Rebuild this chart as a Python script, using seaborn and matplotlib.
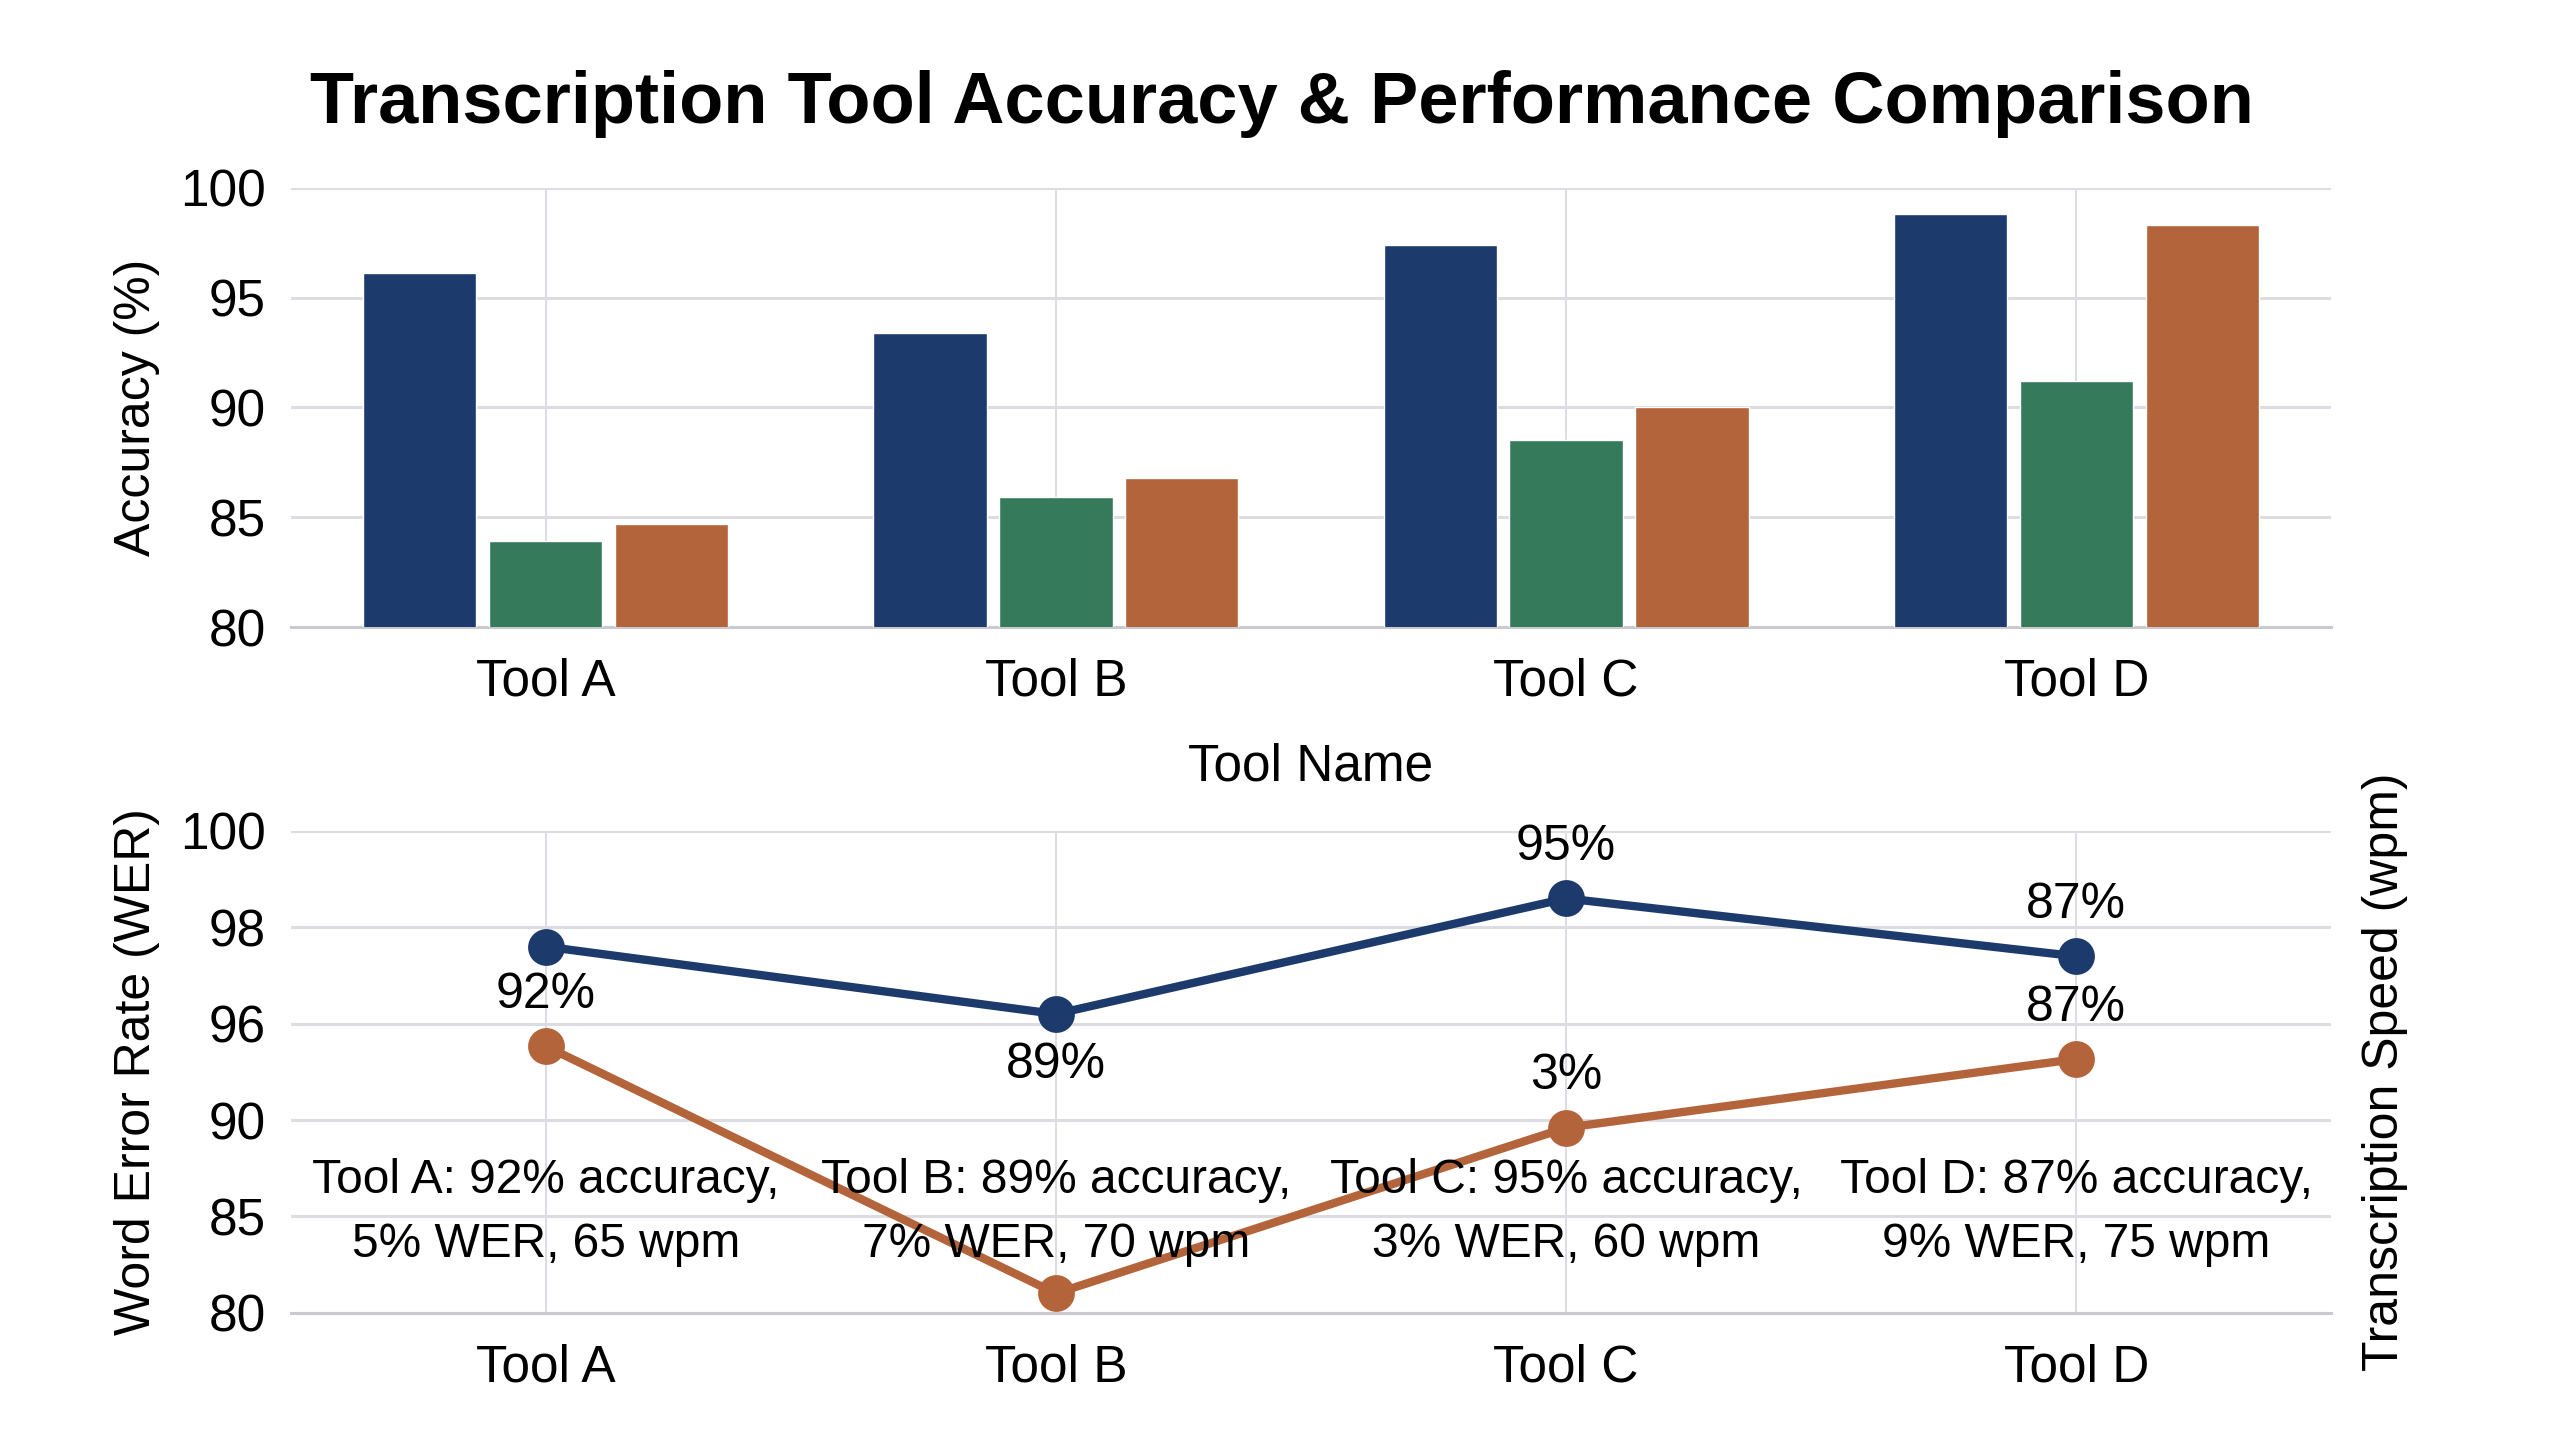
import numpy as np
import pandas as pd
import matplotlib
matplotlib.use("Agg")
import matplotlib.pyplot as plt
import matplotlib.transforms as mtransforms
import seaborn as sns

# Datos
tools = ["Tool A", "Tool B", "Tool C", "Tool D"]
acc_clean = [96.1, 93.4, 97.4, 98.8]
acc_noisy = [83.9, 85.9, 88.5, 91.2]
acc_accent = [84.7, 86.8, 90.0, 98.3]
bar_series = ["Clean audio", "Noisy audio", "Accented speech"]

wer_line = [97.6, 96.2, 98.6, 97.4]
speed_line = [94.6, 81.0, 89.6, 93.8]
wer_ticks = [80, 85, 90, 96, 98, 100]

wer_labels = [None, "89%", "95%", "87%"]
wer_label_side = [1, -1, 1, 1]
speed_labels = ["92%", None, "3%", "87%"]

summary = [
    "Tool A: 92% accuracy,\n5% WER, 65 wpm",
    "Tool B: 89% accuracy,\n7% WER, 70 wpm",
    "Tool C: 95% accuracy,\n3% WER, 60 wpm",
    "Tool D: 87% accuracy,\n9% WER, 75 wpm",
]

navy = "#1c3a6c"
green = "#367a5c"
orange = "#b4643a"
grid_col = "#dcdde3"

sns.set_theme(style="whitegrid")
plt.rcParams["font.family"] = ["Liberation Sans", "DejaVu Sans"]
for k in ("text.color", "axes.labelcolor", "xtick.color", "ytick.color"):
    plt.rcParams[k] = "black"

fig, (ax1, ax2) = plt.subplots(
    2, 1, figsize=(25.6, 14.4), dpi=100,
    gridspec_kw={"height_ratios": [0.305, 0.3345], "hspace": 0.443},
)
plt.subplots_adjust(left=0.1135, right=0.9107, top=0.8696, bottom=0.0884)

# Barras de precision
df_bar = pd.DataFrame({
    "tool": tools * 3,
    "serie": [bar_series[0]] * 4 + [bar_series[1]] * 4 + [bar_series[2]] * 4,
    "valor": acc_clean + acc_noisy + acc_accent,
})
sns.barplot(data=df_bar, x="tool", y="valor", hue="serie",
            palette=[navy, green, orange], saturation=1, width=0.74, gap=0.1,
            legend=False, ax=ax1, zorder=3)
ax1.set_ylim(80, 100)
ax1.set_yticks([80, 85, 90, 95, 100])
ax1.set_xlim(-0.5, 3.5)
ax1.set_ylabel("Accuracy (%)", fontsize=36, labelpad=14)
ax1.set_xlabel("Tool Name", fontsize=37, labelpad=26)

# Lineas WER / velocidad
df_line = pd.DataFrame({
    "tool": tools * 2,
    "serie": ["wer"] * 4 + ["speed"] * 4,
    "valor": wer_line + speed_line,
})
sns.pointplot(data=df_line, x="tool", y="valor", hue="serie",
              palette=[navy, orange], markers="o", markersize=22,
              linewidth=6, errorbar=None, legend=False, ax=ax2)

pos = np.arange(len(wer_ticks))


def fwd(v):
    return np.interp(v, wer_ticks, pos)


def inv(p):
    return np.interp(p, pos, wer_ticks)


ax2.set_yscale("function", functions=(fwd, inv))
ax2.set_ylim(80, 100)
ax2.set_yticks(wer_ticks)
ax2.set_yticklabels([str(t) for t in wer_ticks])
ax2.set_xlim(-0.5, 3.5)
ax2.set_xlabel("")
ax2.set_ylabel("Word Error Rate (WER)", fontsize=36, labelpad=14)

for i, t in enumerate(wer_labels):
    if t:
        ax2.annotate(t, (i, wer_line[i]), xytext=(0, 37 * wer_label_side[i]),
                     textcoords="offset points", ha="center", va="center",
                     fontsize=36, zorder=6)
for i, t in enumerate(speed_labels):
    if t:
        ax2.annotate(t, (i, speed_line[i]), xytext=(0, 37),
                     textcoords="offset points", ha="center", va="center",
                     fontsize=36, zorder=6)

trans = mtransforms.blended_transform_factory(ax2.transData, ax2.transAxes)
for i, t in enumerate(summary):
    ax2.text(i, 0.208, t, transform=trans, ha="center", va="center",
             fontsize=34.5, linespacing=1.55, zorder=6)

ax_r = ax2.twinx()
ax_r.set_yticks([])
ax_r.grid(False)
for s in ax_r.spines.values():
    s.set_visible(False)
ax_r.set_ylabel("Transcription Speed (wpm)", fontsize=36, labelpad=22)

for ax in (ax1, ax2):
    ax.tick_params(axis="both", length=0, labelsize=37)
    ax.tick_params(axis="y", pad=18)
    ax.tick_params(axis="x", pad=22)
    ax.grid(True, axis="y", color=grid_col, linewidth=2.2)
    ax.grid(True, axis="x", color=grid_col, linewidth=1.4)
    ax.set_axisbelow(True)
    for s in ax.spines.values():
        s.set_visible(False)
    ax.spines["bottom"].set_visible(True)
    ax.spines["bottom"].set_color("#c9cacf")
    ax.spines["bottom"].set_linewidth(2.2)

fig.text(0.5006, 0.928, "Transcription Tool Accuracy & Performance Comparison",
         ha="center", va="center", fontsize=52, fontweight="bold")

fig.savefig("out.png", dpi=100, facecolor="white")
